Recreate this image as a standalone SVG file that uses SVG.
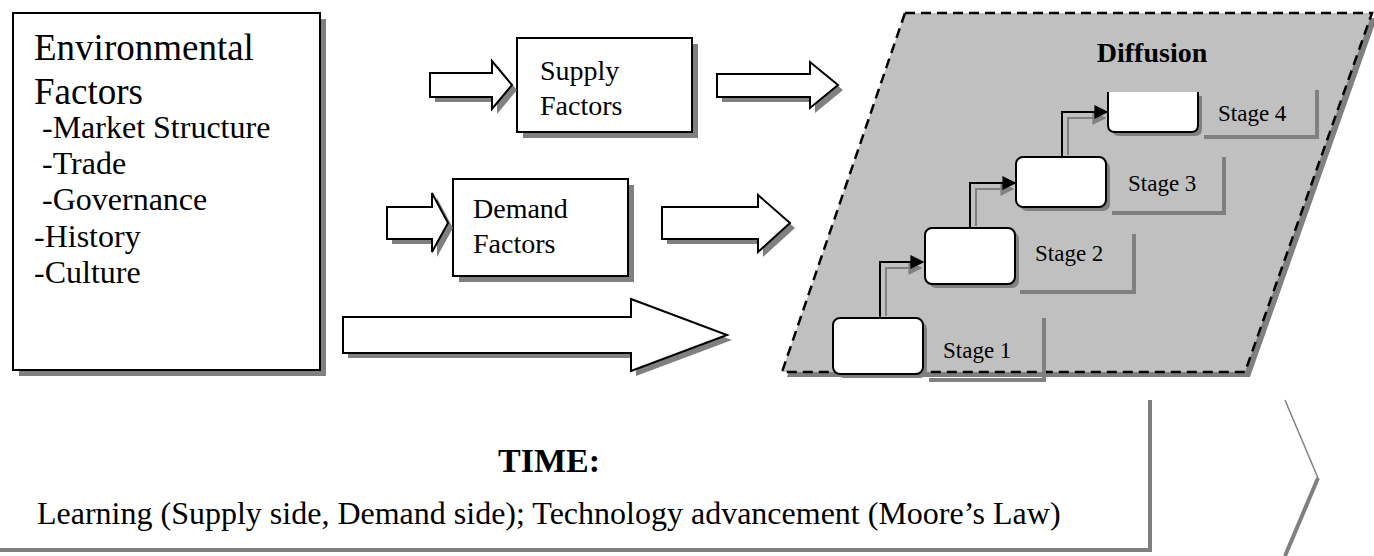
<svg xmlns="http://www.w3.org/2000/svg" width="1374" height="556" viewBox="0 0 1374 556" font-family="'Liberation Serif', 'Times New Roman', 'DejaVu Serif', serif">
  <style>
    text { font-family: "Liberation Serif", "Times New Roman", "DejaVu Serif", serif; fill: #000; }
    .box { fill: #fff; stroke: #000; stroke-width: 2; }
    .shadow { fill: #808080; stroke: none; }
    .barrow { fill: #fff; stroke: #000; stroke-width: 2; stroke-linejoin: miter; }
    .stage { fill: #fff; stroke: #000; stroke-width: 2; }
    .bracket { fill: none; stroke: #808080; stroke-width: 4; }
    .link { fill: none; stroke: #000; stroke-width: 2; }
    .link-sh { fill: none; stroke: #808080; stroke-width: 2; }
    .big { font-size: 37px; }
    .item { font-size: 32px; }
    .node { font-size: 28px; }
    .lbl { font-size: 23px; }
  </style>
  <defs>
    <marker id="head" viewBox="0 0 10 10" refX="9" refY="5" markerWidth="7" markerHeight="7" orient="auto">
      <path d="M0,0 L10,5 L0,10 Z" fill="#000"/>
    </marker>
    <marker id="head-sh" viewBox="0 0 10 10" refX="9" refY="5" markerWidth="7" markerHeight="7" orient="auto">
      <path d="M0,0 L10,5 L0,10 Z" fill="#808080"/>
    </marker>
  </defs>

  <!-- Environmental factors -->
  <g id="environmental">
    <rect class="shadow" x="19" y="19" width="307" height="357"/>
    <rect class="box" x="13" y="13" width="307" height="357"/>
    <text class="big" x="34" y="60">Environmental</text>
    <text class="big" x="34" y="104">Factors</text>
    <text class="item" x="42" y="138">-Market Structure</text>
    <text class="item" x="42" y="174">-Trade</text>
    <text class="item" x="42" y="210">-Governance</text>
    <text class="item" x="34" y="247">-History</text>
    <text class="item" x="34" y="283">-Culture</text>
  </g>

  <!-- Supply factors -->
  <g id="supply">
    <rect class="shadow" x="523" y="44" width="175" height="94"/>
    <rect class="box" x="517" y="38" width="175" height="94"/>
    <text class="node" x="540" y="80">Supply</text>
    <text class="node" x="540" y="115">Factors</text>
  </g>

  <!-- Demand factors -->
  <g id="demand">
    <rect class="shadow" x="459" y="185" width="175" height="97"/>
    <rect class="box" x="453" y="179" width="175" height="97"/>
    <text class="node" x="473" y="218">Demand</text>
    <text class="node" x="473" y="253">Factors</text>
  </g>

  <!-- Diffusion area -->
  <g id="diffusion">
    <polygon class="shadow" points="910,18 1377,18 1250,377 787,377"/>
    <polygon points="905,13 1372,13 1245,372 782,372" fill="#c0c0c0" stroke="#000" stroke-width="2.5" stroke-dasharray="10,6"/>
    <text x="1152" y="62" font-size="28" font-weight="bold" text-anchor="middle">Diffusion</text>
  </g>

  <g id="stage1">
    <path class="bracket" d="M929,380 H1044 V318"/>
    <rect class="shadow" x="837" y="322" width="90" height="56" rx="7"/>
    <rect class="stage" x="833" y="318" width="90" height="56" rx="7"/>
    <text class="lbl" x="943" y="358">Stage 1</text>
  </g>
  <g id="stage2">
    <path class="bracket" d="M1020,292 H1134 V234"/>
    <rect class="shadow" x="929" y="232" width="90" height="56" rx="7"/>
    <rect class="stage" x="925" y="228" width="90" height="56" rx="7"/>
    <text class="lbl" x="1035" y="261">Stage 2</text>
  </g>
  <g id="stage3">
    <path class="bracket" d="M1112,213 H1224 V157"/>
    <rect class="shadow" x="1020" y="161" width="90" height="50" rx="7"/>
    <rect class="stage" x="1016" y="157" width="90" height="50" rx="7"/>
    <text class="lbl" x="1128" y="191">Stage 3</text>
  </g>
  <g id="stage4">
    <path class="bracket" d="M1204,137 H1317 V90"/>
    <path class="shadow" d="M1112,96 H1202 V129 Q1202,136 1195,136 H1119 Q1112,136 1112,129 Z"/>
    <path d="M1108,92 H1198 V125 Q1198,132 1191,132 H1115 Q1108,132 1108,125 Z" fill="#fff"/>
    <path class="link" d="M1108,92 V125 Q1108,132 1115,132 H1191 Q1198,132 1198,125 V92"/>
    <text class="lbl" x="1218" y="121">Stage 4</text>
  </g>

  <!-- Time band -->
  <g id="time">
    <path class="bracket" d="M0,550 H1150 V400"/>
    <path d="M1285,400 L1318,478" fill="none" stroke="#808080" stroke-width="1.5"/>
    <path d="M1318,478 L1285,556" fill="none" stroke="#808080" stroke-width="4"/>
    <text x="549" y="472" font-size="34" font-weight="bold" text-anchor="middle">TIME:</text>
    <text x="37" y="524" font-size="32">Learning (Supply side, Demand side); Technology advancement (Moore’s Law)</text>
  </g>

  <!-- Connectors -->
  <g id="connectors">
    <!-- block arrows: shadows first -->
    <g transform="translate(5,5)" class="shadow">
      <path d="M430,73 H492 V61 L512,85 L492,109 V97 H430 Z"/>
      <path d="M717,74 H810 V62 L838,85 L810,108 V97 H717 Z"/>
      <path d="M387,207 H432 V193 L448,223 L432,252 V239 H387 Z"/>
      <path d="M662,207 H758 V195 L790,223 L758,252 V239 H662 Z"/>
      <path d="M343,317 H631 V299 L727,335 L631,371 V353 H343 Z"/>
    </g>
    <path class="barrow" d="M430,73 H492 V61 L512,85 L492,109 V97 H430 Z"/>
    <path class="barrow" d="M717,74 H810 V62 L838,85 L810,108 V97 H717 Z"/>
    <path class="barrow" d="M387,207 H432 V193 L448,223 L432,252 V239 H387 Z"/>
    <path class="barrow" d="M662,207 H758 V195 L790,223 L758,252 V239 H662 Z"/>
    <path class="barrow" d="M343,317 H631 V299 L727,335 L631,371 V353 H343 Z"/>

    <!-- stage steps -->
    <path class="link-sh" d="M886,316 V268 H921" marker-end="url(#head-sh)"/>
    <path class="link" d="M880,318 V262 H923" marker-end="url(#head)"/>
    <path class="link-sh" d="M976,226 V189 H1013" marker-end="url(#head-sh)"/>
    <path class="link" d="M970,228 V183 H1015" marker-end="url(#head)"/>
    <path class="link-sh" d="M1068,155 V118 H1105" marker-end="url(#head-sh)"/>
    <path class="link" d="M1062,157 V112 H1107" marker-end="url(#head)"/>
  </g>
</svg>
